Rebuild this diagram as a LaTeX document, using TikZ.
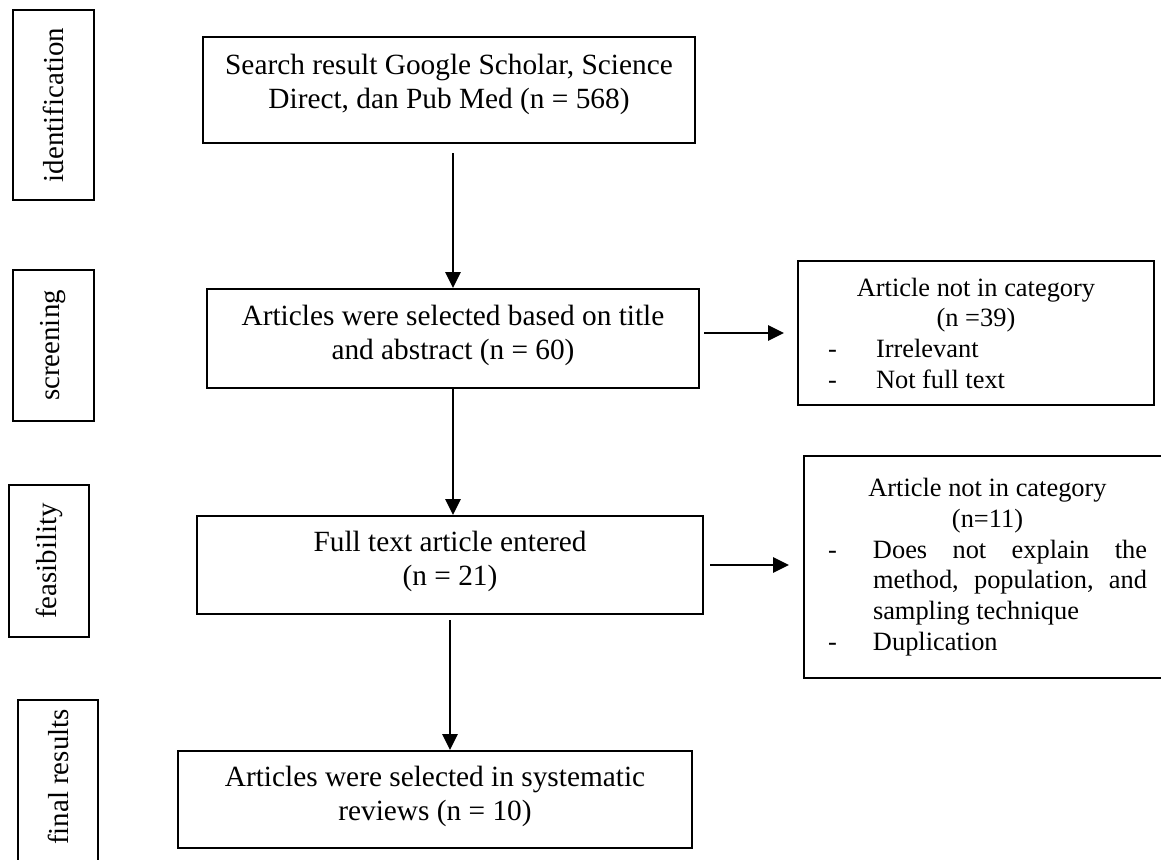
\documentclass[tikz,border=0pt]{standalone}
\usepackage{fontspec}
\setmainfont{Liberation Serif}
\usetikzlibrary{arrows.meta}
\setlength{\parindent}{0pt}
\begin{document}
\begin{tikzpicture}[x=0.75pt,y=-0.75pt,
  box/.style={draw, line width=1.5pt, inner sep=0pt, align=center, font=\fontsize{22}{25.5}\selectfont},
  sidebox/.style={draw, line width=1.5pt, inner sep=0pt, font=\fontsize{19.8}{23}\selectfont},
  stagebox/.style={draw, line width=1.5pt, inner sep=0pt, rotate=90, font=\fontsize{21.7}{26}\selectfont},
  arr/.style={line width=1.5pt, -{Triangle[length=12pt,width=11.5pt]}}]
\useasboundingbox (0,0) rectangle (1161,860);
\fill[white] (0,0) rectangle (1161,860);
\clip (0,0) rectangle (1161,860);

% stage labels
\node[stagebox, minimum width=142.5pt, minimum height=60.75pt] (lab1) at (53.5,105) {identification};
\node[stagebox, minimum width=113.25pt, minimum height=60.75pt] (lab2) at (53.5,345.5) {screening};
\node[stagebox, minimum width=114pt, minimum height=60pt] (lab3) at (49,561) {feasibility};
\node[stagebox, minimum width=135pt, minimum height=60pt] (lab4) at (58,790) {\hspace*{19.5pt}final results};

% main boxes
\node[box, minimum width=369pt, minimum height=79.5pt, text depth=12.3pt] (b1) at (449,90)
  {Search result Google Scholar, Science\\Direct, dan Pub Med (n = 568)};
\node[box, minimum width=369pt, minimum height=74.25pt, text depth=10pt] (b2) at (453,338.5)
  {Articles were selected based on title\\and abstract (n = 60)};
\node[box, minimum width=379.5pt, minimum height=73.5pt, text depth=9.3pt] (b3) at (450,565)
  {Full text article entered\\(n = 21)};
\node[box, minimum width=385.5pt, minimum height=72.75pt, text depth=10pt] (b4) at (435,799.5)
  {Articles were selected in systematic\\reviews (n = 10)};

% side boxes
\node[sidebox, minimum width=267pt, minimum height=108pt] (r1) at (976,333)
  {\parbox{222pt}{\centering Article not in category\\(n =39)\par
   \raggedright\makebox[36pt][l]{-}Irrelevant\\
   \makebox[36pt][l]{-}Not full text}};
\node[sidebox, minimum width=275.25pt, minimum height=166.5pt] (r2) at (987.5,567)
  {\parbox{239.25pt}{\centering Article not in category\\(n=11)\par
   {\leftskip=0pt\rightskip=0pt\parfillskip=0pt plus 1fil\hangindent=33.75pt\hangafter=1
   \makebox[33.75pt][l]{-}Does not explain the\linebreak method, population, and\linebreak sampling technique\par}
   \raggedright\makebox[33.75pt][l]{-}Duplication}};

% connectors
\draw[arr, shorten <=6.75pt] (b2.north |- b1.south) -- (b2.north);
\draw[arr] (b2.south) -- (b2.south |- b3.north);
\draw[arr, shorten <=3.75pt] (b3.south) -- (b3.south |- b4.north);
\draw[arr, shorten <=3pt, shorten >=9.75pt] (b2.east |- r1.west) -- (r1.west);
\draw[arr, shorten <=4.5pt, shorten >=10.5pt] (b3.east) -- (b3.east -| r2.west);
\end{tikzpicture}
\end{document}
